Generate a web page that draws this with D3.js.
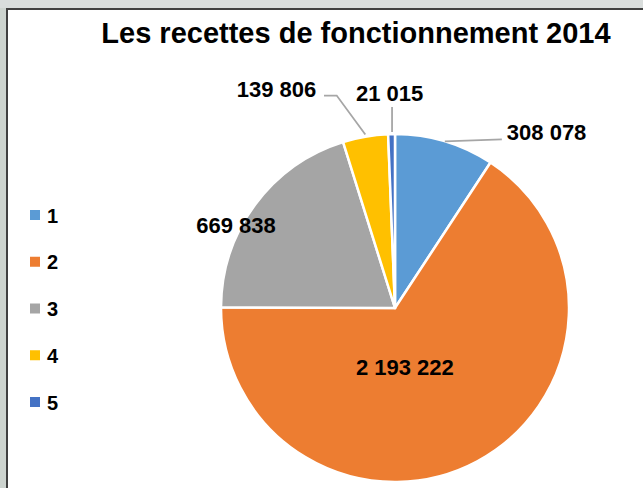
<!DOCTYPE html>
<html>
<head>
<meta charset="utf-8">
<script src="https://cdn.jsdelivr.net/npm/d3@7"></script>
<style>
  body { margin: 0; background: #cdd4cf; }
  svg { display: block; font-family: "Liberation Sans", Arial, sans-serif; }
</style>
</head>
<body>
<div id="chart"></div>
<script>
// chart data
const categories = ["1", "2", "3", "4", "5"];
const values = [308078, 2193222, 669838, 139806, 21015];
const labels = ["308 078", "2 193 222", "669 838", "139 806", "21 015"];
const colors = ["#5B9BD5", "#ED7D31", "#A5A5A5", "#FFC000", "#4472C4"];
const title = "Les recettes de fonctionnement 2014";

const width = 643, height = 488;
const cx = 395, cy = 308, radius = 174;

// label placement relative to the rim point at the slice mid angle
// leader: list of offsets for the leader line (empty = no line)
const labelLayout = [
  { dx: 62, dy: -1, anchor: "start", leader: [[0, 0], [57, -2]] },
  { dx: -72.5, dy: -86, anchor: "middle", leader: [] },
  { dx: -19, dy: 28, anchor: "middle", leader: [] },
  { dx: -49, dy: -40, anchor: "end", leader: [[0, -2], [-28.6, -41], [-41.3, -41]] },
  { dx: -2, dy: -33, anchor: "middle", leader: [[0.5, -2], [0.5, -27]] }
];

let svg = d3.select("#chart")
    .append("svg")
    .attr("width", width)
    .attr("height", height);

// top grey strip + frame
svg.append("rect")
    .attr("x", 0).attr("y", 0)
    .attr("width", width).attr("height", 8)
    .attr("fill", "#d9dddc");
svg.append("rect")
    .attr("x", 6).attr("y", 8)
    .attr("width", width - 6).attr("height", height - 8)
    .attr("fill", "#404040");
svg.append("rect")
    .attr("x", 8).attr("y", 10)
    .attr("width", width - 8).attr("height", height - 10)
    .attr("fill", "#ffffff");

// title
svg.append("text")
    .attr("x", 356)
    .attr("y", 42.7)
    .style("text-anchor", "middle")
    .style("font-size", "29px")
    .style("font-weight", "bold")
    .attr("fill", "#000")
    .text(title);

let pie = d3.pie().sort(null).value(d => d);
let arcs = pie(values);

let arc = d3.arc().innerRadius(0).outerRadius(radius);

let g = svg.append("g")
    .attr("transform", `translate(${cx}, ${cy})`);

g.selectAll("path.slice")
    .data(arcs)
    .enter()
    .append("path")
    .attr("class", "slice")
    .attr("d", arc)
    .attr("fill", (d, i) => colors[i])
    .attr("stroke", "#fff")
    .attr("stroke-width", 2.5)
    .attr("stroke-linejoin", "round");

// rim point at the slice mid angle
let rim = d => {
  let a = (d.startAngle + d.endAngle) / 2;
  return [radius * Math.sin(a), -radius * Math.cos(a)];
};

// leader lines
g.selectAll("polyline.leader")
    .data(arcs.filter((d, i) => labelLayout[i].leader.length))
    .enter()
    .append("polyline")
    .attr("class", "leader")
    .attr("points", d => {
      let p = rim(d);
      return labelLayout[d.index].leader.map(o => [p[0] + o[0], p[1] + o[1]].join(",")).join(" ");
    })
    .attr("fill", "none")
    .attr("stroke", "#a6a6a6")
    .attr("stroke-width", 1.8);

// data labels
g.selectAll("text.value")
    .data(arcs)
    .enter()
    .append("text")
    .attr("class", "value")
    .attr("x", d => rim(d)[0] + labelLayout[d.index].dx)
    .attr("y", d => rim(d)[1] + labelLayout[d.index].dy)
    .style("text-anchor", d => labelLayout[d.index].anchor)
    .style("font-size", "22px")
    .style("font-weight", "bold")
    .attr("fill", "#000")
    .text((d, i) => labels[i]);

// legend
let legendY = d3.scalePoint()
    .domain(categories)
    .range([215, 402]);

let legend = svg.append("g");

legend.selectAll("rect")
    .data(categories)
    .enter()
    .append("rect")
    .attr("x", 30)
    .attr("y", d => legendY(d) - 5)
    .attr("width", 10)
    .attr("height", 10)
    .attr("fill", (d, i) => colors[i]);

legend.selectAll("text")
    .data(categories)
    .enter()
    .append("text")
    .attr("x", 47)
    .attr("y", d => legendY(d) + 7.5)
    .style("font-size", "20px")
    .style("font-weight", "bold")
    .attr("fill", "#000")
    .text(d => d);
</script>
</body>
</html>
